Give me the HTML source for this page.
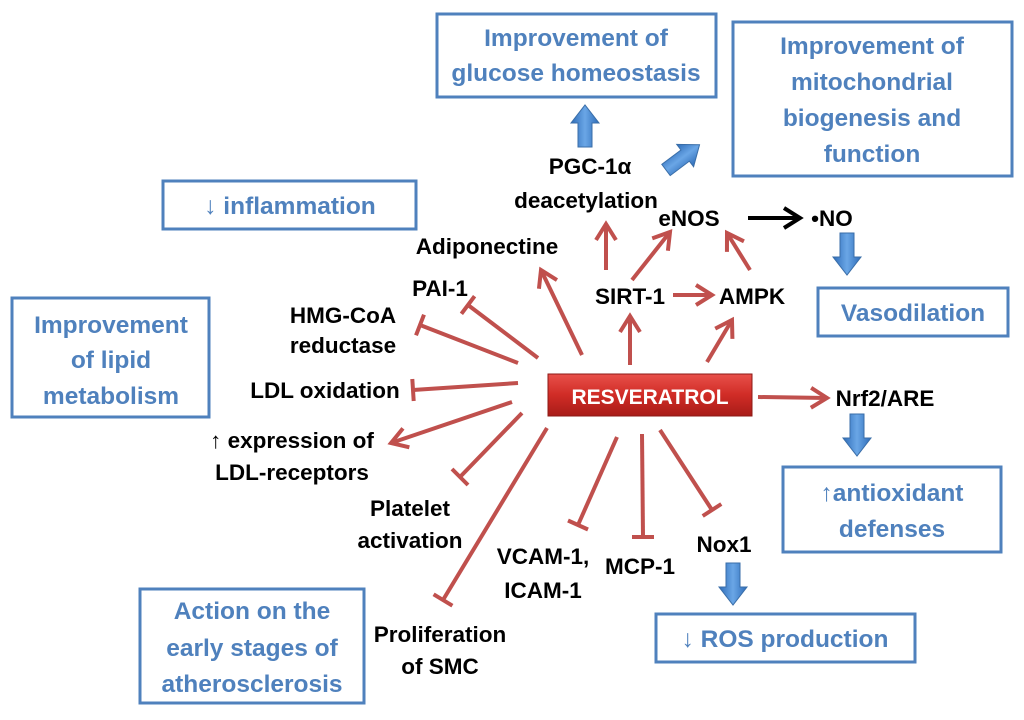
<!DOCTYPE html>
<html><head><meta charset="utf-8"><style>
html,body{margin:0;padding:0;background:#fff}
svg text{font-family:"Liberation Sans",sans-serif;font-weight:bold}
.b{fill:#4f81bd;font-size:24.5px;text-anchor:middle}
.k{fill:#000;font-size:22.5px;text-anchor:middle}
.box{fill:#fff;stroke:#4f81bd;stroke-width:3}
.r{stroke:#c0504d;stroke-width:4;fill:none}
</style></head><body>
<svg width="1024" height="715" viewBox="0 0 1024 715" xmlns="http://www.w3.org/2000/svg">
<defs>
<marker id="ar" markerWidth="6" markerHeight="6" refX="4.5" refY="3" orient="auto" markerUnits="strokeWidth">
<path d="M0.5,0.5 L4.5,3 L0.5,5.5" fill="none" stroke="#c0504d" stroke-width="1"/></marker>
<marker id="ak" markerWidth="6" markerHeight="6" refX="4.5" refY="3" orient="auto" markerUnits="strokeWidth">
<path d="M0.5,0.5 L4.5,3 L0.5,5.5" fill="none" stroke="#000" stroke-width="1"/></marker>
<linearGradient id="rg" x1="0" y1="0" x2="0" y2="1"><stop offset="0" stop-color="#e8504a"/><stop offset="0.5" stop-color="#d02c26"/><stop offset="1" stop-color="#a81c18"/></linearGradient>
<linearGradient id="bg" x1="0" y1="0" x2="1" y2="0"><stop offset="0" stop-color="#2e6cb8"/><stop offset="0.5" stop-color="#6aa6e6"/><stop offset="1" stop-color="#2e6cb8"/></linearGradient>
<g id="da"><path d="M-7,0 L7,0 L7,24 L14,24 L0,42 L-14,24 L-7,24 Z" fill="url(#bg)" stroke="#3a6ea8" stroke-width="1"/></g>
</defs>

<rect class="box" x="437" y="14" width="279" height="83"/>
<text class="b" x="576" y="46">Improvement of</text>
<text class="b" x="576" y="81">glucose homeostasis</text>
<rect class="box" x="733" y="22" width="279" height="154"/>
<text class="b" x="872" y="54">Improvement of</text>
<text class="b" x="872" y="90">mitochondrial</text>
<text class="b" x="872" y="126">biogenesis and</text>
<text class="b" x="872" y="162">function</text>
<rect class="box" x="163" y="181" width="253" height="48"/>
<text class="b" x="290" y="214">↓ inflammation</text>
<rect class="box" x="818" y="288" width="190" height="48"/>
<text class="b" x="913" y="321">Vasodilation</text>
<rect class="box" x="12" y="298" width="197" height="119"/>
<text class="b" x="111" y="333">Improvement</text>
<text class="b" x="111" y="368">of lipid</text>
<text class="b" x="111" y="404">metabolism</text>
<rect class="box" x="783" y="467" width="218" height="85"/>
<text class="b" x="892" y="501">↑antioxidant</text>
<text class="b" x="892" y="537">defenses</text>
<rect class="box" x="656" y="614" width="259" height="48"/>
<text class="b" x="785" y="647">↓ ROS production</text>
<rect class="box" x="140" y="589" width="224" height="114"/>
<text class="b" x="252" y="619">Action on the</text>
<text class="b" x="252" y="656">early stages of</text>
<text class="b" x="252" y="692">atherosclerosis</text>

<use href="#da" transform="translate(585,147) rotate(180)"/>
<use href="#da" transform="translate(666,170) rotate(-127)"/>
<use href="#da" transform="translate(847,233)"/>
<use href="#da" transform="translate(857,414)"/>
<use href="#da" transform="translate(733,563)"/>

<line class="r" marker-end="url(#ar)" x1="582" y1="355" x2="541" y2="270"/>
<line class="r" marker-end="url(#ar)" x1="630" y1="365" x2="630" y2="316"/>
<line class="r" marker-end="url(#ar)" x1="707" y1="362" x2="732" y2="320"/>
<line class="r" marker-end="url(#ar)" x1="606" y1="270" x2="606" y2="224"/>
<line class="r" marker-end="url(#ar)" x1="632" y1="280" x2="670" y2="232"/>
<line class="r" marker-end="url(#ar)" x1="673" y1="295" x2="712" y2="295"/>
<line class="r" marker-end="url(#ar)" x1="750" y1="270" x2="727" y2="233"/>
<line class="r" marker-end="url(#ar)" x1="758" y1="397" x2="827" y2="398"/>
<line class="r" marker-end="url(#ar)" x1="512" y1="402" x2="391" y2="443"/>
<line stroke="#000" stroke-width="4" marker-end="url(#ak)" x1="748" y1="218" x2="800" y2="218"/>

<g class="r">
<line x1="538" y1="358" x2="468" y2="305"/><line x1="474.6" y1="296.2" x2="461.4" y2="313.8"/>
<line x1="518" y1="363" x2="420" y2="325"/><line x1="424" y1="314.7" x2="416" y2="335.3"/>
<line x1="518" y1="383" x2="413" y2="390"/><line x1="412.3" y1="379" x2="413.7" y2="401"/>
<line x1="522" y1="413" x2="460" y2="477"/><line x1="452" y1="469" x2="468" y2="485"/>
<line x1="547" y1="428" x2="443" y2="600"/><line x1="433.6" y1="594.3" x2="452.4" y2="605.7"/>
<line x1="617" y1="437" x2="578" y2="525"/><line x1="568" y1="520.5" x2="588" y2="529.5"/>
<line x1="642" y1="434" x2="643" y2="537"/><line x1="632" y1="537" x2="654" y2="537"/>
<line x1="660" y1="430" x2="712" y2="510"/><line x1="702.7" y1="516" x2="721.3" y2="504"/>
</g>

<rect x="548" y="374" width="204" height="42" fill="url(#rg)" stroke="#8c1a16" stroke-width="1"/>
<text x="650" y="404" fill="#fff" font-size="21" text-anchor="middle">RESVERATROL</text>

<text class="k" x="590" y="174">PGC-1α</text>
<text class="k" x="586" y="208">deacetylation</text>
<text class="k" x="689" y="226">eNOS</text>
<text class="k" x="832" y="226">•NO</text>
<text class="k" x="487" y="254">Adiponectine</text>
<text class="k" x="630" y="304">SIRT-1</text>
<text class="k" x="752" y="304">AMPK</text>
<text class="k" x="440" y="296">PAI-1</text>
<text class="k" x="343" y="323">HMG-CoA</text>
<text class="k" x="343" y="353">reductase</text>
<text class="k" x="325" y="398">LDL oxidation</text>
<text class="k" x="292" y="448">↑ expression of</text>
<text class="k" x="292" y="480">LDL-receptors</text>
<text class="k" x="410" y="516">Platelet</text>
<text class="k" x="410" y="548">activation</text>
<text class="k" x="543" y="564">VCAM-1,</text>
<text class="k" x="543" y="598">ICAM-1</text>
<text class="k" x="640" y="574">MCP-1</text>
<text class="k" x="724" y="552">Nox1</text>
<text class="k" x="440" y="642">Proliferation</text>
<text class="k" x="440" y="674">of SMC</text>
<text class="k" x="885" y="406">Nrf2/ARE</text>
</svg>
</body></html>
